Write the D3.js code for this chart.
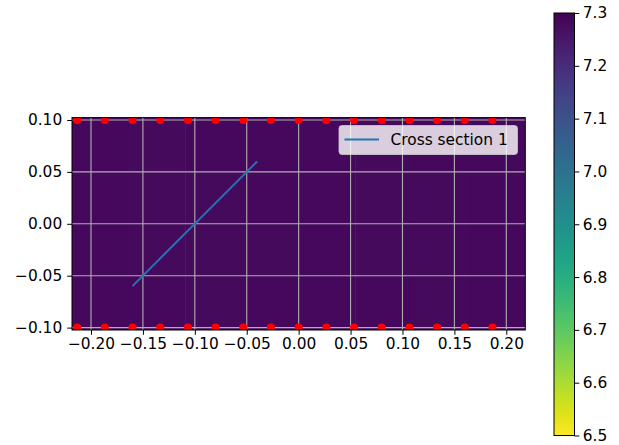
<!DOCTYPE html>
<html>
<head>
<meta charset="utf-8">
<script src="https://cdn.jsdelivr.net/npm/d3@7"></script>
<style>
  html, body { margin: 0; padding: 0; background: #fff; }
  svg { display: block; }
  text { font-family: "DejaVu Sans", sans-serif; fill: #000; }
</style>
</head>
<body>
<svg id="chart" width="619" height="445"></svg>
<script>
// x ticks / y ticks of the main axes
const xTicks = [-0.20, -0.15, -0.10, -0.05, 0.00, 0.05, 0.10, 0.15, 0.20];
const yTicks = [-0.10, -0.05, 0.00, 0.05, 0.10];
// colour-bar ticks
const cbTicks = [6.5, 6.6, 6.7, 6.8, 6.9, 7.0, 7.1, 7.2, 7.3];

// field values on a coarse grid (rows from top to bottom)
const fieldRows = [
  [7.283, 7.281, 7.282, 7.283, 7.282, 7.281, 7.282, 7.283],
  [7.282, 7.281, 7.281, 7.282, 7.282, 7.281, 7.281, 7.282],
  [7.282, 7.281, 7.281, 7.281, 7.282, 7.281, 7.281, 7.282],
  [7.283, 7.282, 7.281, 7.282, 7.282, 7.282, 7.281, 7.283]
];

// sensor positions along the top and bottom edges
const sensorX = [-0.2133, -0.1867, -0.1600, -0.1333, -0.1067, -0.0800, -0.0533, -0.0267,
                 0.0000, 0.0267, 0.0533, 0.0800, 0.1067, 0.1333, 0.1600, 0.1867];
const sensorY = [0.1, -0.1];

// cross-section line end points
const sectionX = [-0.16, -0.04];
const sectionY = [-0.06, 0.06];
const sectionLabel = "Cross section 1";

const cbMin = 6.5, cbMax = 7.3;
const xLim = [-0.2183, 0.2183];
const yLim = [-0.1023, 0.1023];

const svg = d3.select("#chart");
const FS = 15.4;

const x = d3.scaleLinear().domain(xLim).range([72, 525.3]);
const y = d3.scaleLinear().domain(yLim).range([330, 117.6]);

// reversed viridis: high values dark
const color = d3.scaleSequential(t => d3.interpolateViridis(1 - t)).domain([cbMin, cbMax]);

svg.append("defs").append("clipPath").attr("id", "axclip")
  .append("rect")
  .attr("x", x(xLim[0])).attr("y", y(yLim[1]))
  .attr("width", x(xLim[1]) - x(xLim[0]))
  .attr("height", y(yLim[0]) - y(yLim[1]));

const plot = svg.append("g").attr("clip-path", "url(#axclip)");

// field cells
const nr = fieldRows.length, nc = fieldRows[0].length;
const cx = d3.scaleLinear().domain([0, nc]).range(xLim);
const cy = d3.scaleLinear().domain([0, nr]).range([yLim[1], yLim[0]]);
fieldRows.forEach((row, r) => {
  plot.selectAll(null).data(row).enter().append("rect")
    .attr("x", (d, c) => x(cx(c)))
    .attr("y", y(cy(r)))
    .attr("width", (d, c) => x(cx(c + 1)) - x(cx(c)) + 0.5)
    .attr("height", y(cy(r + 1)) - y(cy(r)) + 0.5)
    .attr("fill", d => color(d));
});

// grid
plot.selectAll(".gx").data(xTicks).enter().append("line")
  .attr("x1", d => x(d)).attr("x2", d => x(d))
  .attr("y1", y(yLim[0])).attr("y2", y(yLim[1]))
  .attr("stroke", "#b0b0b0").attr("stroke-width", 1.1);
plot.selectAll(".gy").data(yTicks).enter().append("line")
  .attr("y1", d => y(d)).attr("y2", d => y(d))
  .attr("x1", x(xLim[0])).attr("x2", x(xLim[1]))
  .attr("stroke", "#b0b0b0").attr("stroke-width", 1.1);

// cross-section line
plot.append("line")
  .attr("x1", x(sectionX[0])).attr("y1", y(sectionY[0]))
  .attr("x2", x(sectionX[1])).attr("y2", y(sectionY[1]))
  .attr("stroke", "#1f77b4").attr("stroke-width", 2);

// sensors
const sensors = [];
sensorY.forEach(sy => sensorX.forEach(sx => sensors.push([sx, sy])));
plot.selectAll(".dot").data(sensors).enter().append("circle")
  .attr("cx", d => x(d[0])).attr("cy", d => y(d[1]))
  .attr("r", 4).attr("fill", "#ff0000");

// frame
svg.append("rect")
  .attr("x", x(xLim[0])).attr("y", y(yLim[1]))
  .attr("width", x(xLim[1]) - x(xLim[0]))
  .attr("height", y(yLim[0]) - y(yLim[1]))
  .attr("fill", "none").attr("stroke", "#000").attr("stroke-width", 1);

// axes
const fmt2 = d => d3.format(".2f")(d).replace("-", "\u2212");
const xAxis = svg.append("g").attr("transform", `translate(0,${y(yLim[0])})`)
  .call(d3.axisBottom(x).tickValues(xTicks).tickFormat(fmt2).tickSize(4.8).tickPadding(3.5));
const yAxis = svg.append("g").attr("transform", `translate(${x(xLim[0])},0)`)
  .call(d3.axisLeft(y).tickValues(yTicks).tickFormat(fmt2).tickSize(4.8).tickPadding(5));
[xAxis, yAxis].forEach(g => {
  g.select(".domain").remove();
  g.selectAll("line").attr("stroke", "#000").attr("stroke-width", 1);
  g.selectAll("text").attr("font-size", FS).attr("font-family", "DejaVu Sans").attr("fill", "#111");
});

// legend
const lg = svg.append("g");
lg.append("rect")
  .attr("x", 339).attr("y", 125.5).attr("width", 178.5).attr("height", 29)
  .attr("rx", 3).attr("ry", 3)
  .attr("fill", "rgba(255,255,255,0.8)").attr("stroke", "rgba(204,204,204,0.8)").attr("stroke-width", 1);
lg.append("line").attr("x1", 344.5).attr("x2", 379).attr("y1", 139.5).attr("y2", 139.5)
  .attr("stroke", "#1f77b4").attr("stroke-width", 2);
lg.append("text").attr("x", 390.5).attr("y", 139.5).attr("dy", "0.35em")
  .attr("font-size", FS).attr("fill", "#111").text(sectionLabel);

// colour bar
const cbX = 554, cbW = 20.5;
const cbScale = d3.scaleLinear().domain([cbMin, cbMax]).range([435.5, 13]);
const grad = svg.select("defs").append("linearGradient")
  .attr("id", "cbgrad").attr("x1", 0).attr("x2", 0).attr("y1", 1).attr("y2", 0);
d3.range(0, 1.0001, 0.05).forEach(t => {
  grad.append("stop").attr("offset", t).attr("stop-color", color(cbMin + t * (cbMax - cbMin)));
});
svg.append("rect")
  .attr("x", cbX).attr("y", cbScale(cbMax))
  .attr("width", cbW).attr("height", cbScale(cbMin) - cbScale(cbMax))
  .attr("fill", "url(#cbgrad)").attr("stroke", "#000").attr("stroke-width", 1);
const cbAxis = svg.append("g").attr("transform", `translate(${cbX + cbW},0)`)
  .call(d3.axisRight(cbScale).tickValues(cbTicks).tickFormat(d3.format(".1f")).tickSize(4.8).tickPadding(3.5));
cbAxis.select(".domain").remove();
cbAxis.selectAll("line").attr("stroke", "#000").attr("stroke-width", 1);
cbAxis.selectAll("text").attr("font-size", FS).attr("font-family", "DejaVu Sans").attr("fill", "#111");
</script>
</body>
</html>
